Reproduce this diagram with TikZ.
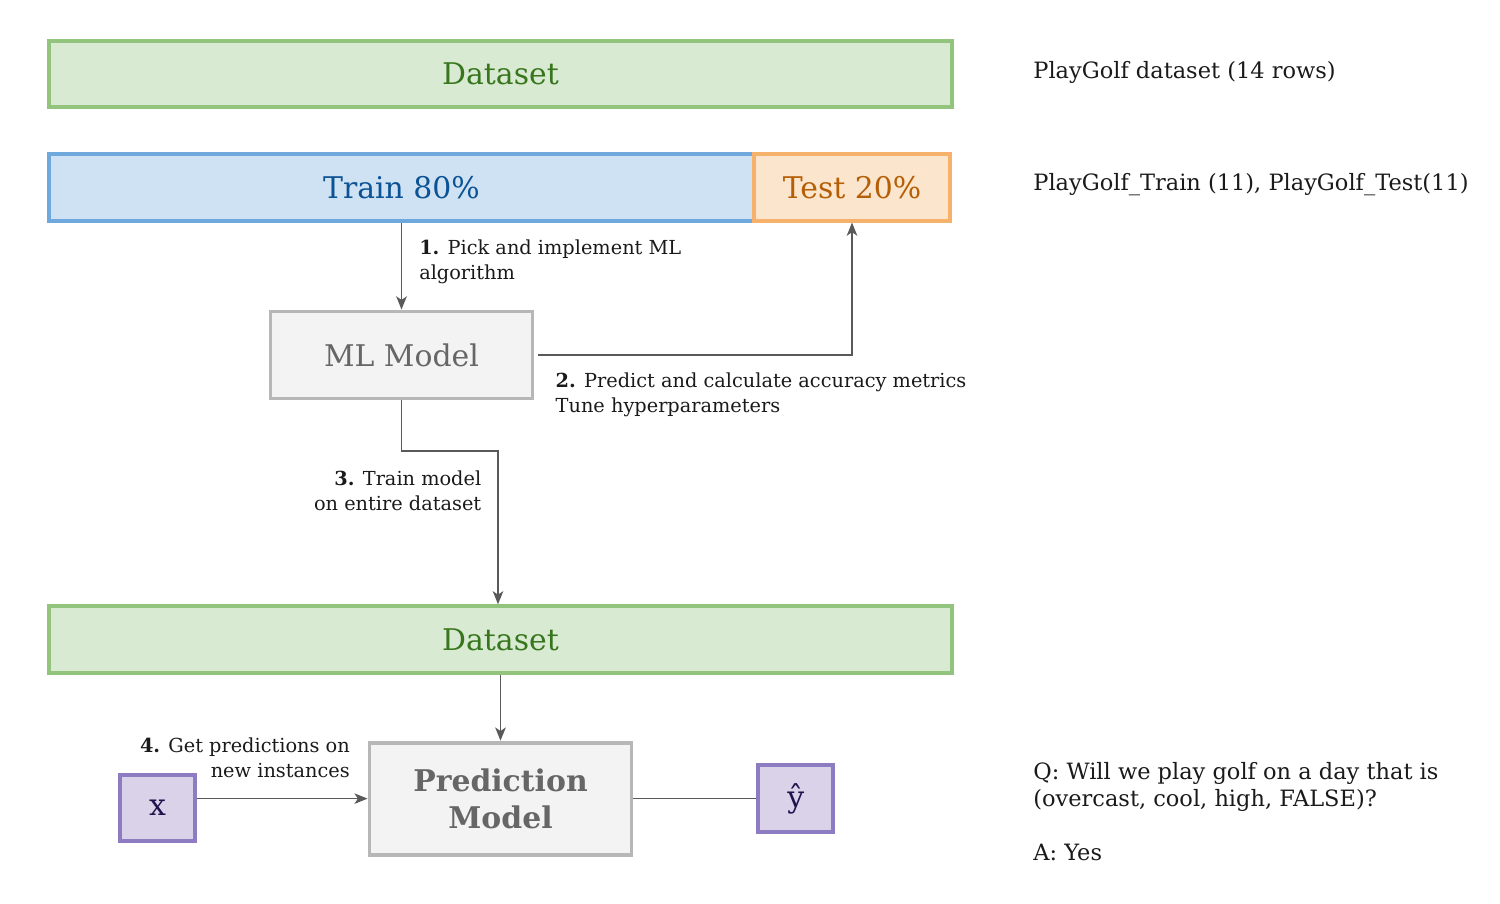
\documentclass[tikz,border=0pt]{standalone}
\usepackage{fontspec}
\setmainfont{DejaVu Serif}
\usepackage{tikz}
\usetikzlibrary{arrows.meta, positioning, calc}
\usepackage{xcolor}

\definecolor{greenfill}{HTML}{D9EAD3}
\definecolor{greenline}{HTML}{93C47D}
\definecolor{greentext}{HTML}{38761D}
\definecolor{bluefill}{HTML}{CFE2F3}
\definecolor{blueline}{HTML}{6FA8DC}
\definecolor{bluetext}{HTML}{0B5394}
\definecolor{orangefill}{HTML}{FCE5CD}
\definecolor{orangeline}{HTML}{F6B26B}
\definecolor{orangetext}{HTML}{B45F06}
\definecolor{grayfill}{HTML}{F3F3F3}
\definecolor{grayline}{HTML}{B7B7B7}
\definecolor{graytext}{HTML}{666666}
\definecolor{purplefill}{HTML}{D9D2E9}
\definecolor{purpleline}{HTML}{8E7CC3}
\definecolor{purpletext}{HTML}{20124D}
\definecolor{arrowgray}{HTML}{595959}
\definecolor{labelblack}{HTML}{1A1A1A}

\begin{document}
\begin{tikzpicture}[
    node distance=1cm and 1cm,
    box/.style={rectangle, draw, line width=2.2pt, text centered, inner sep=0pt, font=\fontsize{17}{21}\selectfont},
    datablock/.style={box, fill=greenfill, draw=greenline, text=greentext, minimum width=18.06cm, minimum height=1.33cm},
    trainblock/.style={box, fill=bluefill, draw=blueline, text=bluetext, minimum width=14.1cm, minimum height=1.33cm},
    testblock/.style={box, fill=orangefill, draw=orangeline, text=orangetext, minimum width=3.92cm, minimum height=1.33cm},
    modelblock/.style={box, fill=grayfill, draw=grayline, text=graytext, minimum width=5.24cm, align=center},
    ioblock/.style={box, fill=purplefill, draw=purpleline, text=purpletext, minimum width=1.5cm, minimum height=1.33cm},
    arrow/.style={-{Stealth[length=7.5pt, width=6pt, inset=2pt]}, line width=0.85pt, draw=arrowgray},
    line/.style={line width=0.85pt, draw=arrowgray},
    steplabel/.style={font=\fontsize{11}{14}\selectfont, text=labelblack, inner sep=0pt},
    note/.style={anchor=west, font=\fontsize{12.8}{15.3}\selectfont, text=labelblack, inner sep=0pt}
]
    \useasboundingbox (0,0) rectangle (30,-18.08);

    % Nodes
    \node[datablock] (data) at (10.01,-1.48) {Dataset};
    \node[trainblock, below right=0.86cm and 0cm of data.south west] (train) {Train 80\%};
    \node[testblock, right=-2.2pt of train] (test) {Test 20\%};
    \node[modelblock, minimum height=1.74cm, below=1.74cm of train] (ml) {ML Model};
    \node[datablock] (full) at (10.01,-12.79) {Dataset};
    \node[modelblock, minimum height=2.24cm, below=1.32cm of full, font=\fontsize{17}{21}\selectfont\bfseries] (pred) {Prediction\\Model};
    \node[ioblock] (xin) at (3.15,-16.16) {x};
    \node[ioblock, right=2.46cm of pred] (yhat) {ŷ};

    % Notes
    \node[note] (golfall) at (20.66,-1.44) {PlayGolf dataset (14 rows)};
    \node[note] (golfsplit) at (20.66,-3.7) {PlayGolf\_Train (11), PlayGolf\_Test(11)};
    \node[note, anchor=north west, align=left] (query) at (20.66,-15.24) {Q: Will we play golf on a day that is\\(overcast, cool, high, FALSE)?\\[15.3pt]A: Yes};

    % Arrows
    \coordinate (bend) at (9.96,-9.02);
    \draw[arrow] (train) -- node[steplabel, pos=0.45, right=0.34cm, align=left] {\textbf{1.} Pick and implement ML\\algorithm} (ml);
    \draw[arrow] ([xshift=2pt]ml.east) node[steplabel, anchor=north west, xshift=0.34cm, yshift=-0.34cm, align=left] {\textbf{2.} Predict and calculate accuracy metrics\\Tune hyperparameters} -| (test.south);
    \draw[arrow] (ml.south) |- (bend) -- node[steplabel, pos=0.26, left=0.32cm, align=right] {\textbf{3.} Train model\\on entire dataset} (bend |- full.north);
    \draw[arrow] (full) -- (pred);
    \draw[arrow] (xin.east |- pred.west) -- (pred.west) node[steplabel, anchor=south east, xshift=-0.34cm, yshift=0.4cm, align=right] {\textbf{4.} Get predictions on\\new instances};
    \draw[line] (pred.east) -- (yhat.west);
\end{tikzpicture}
\end{document}
